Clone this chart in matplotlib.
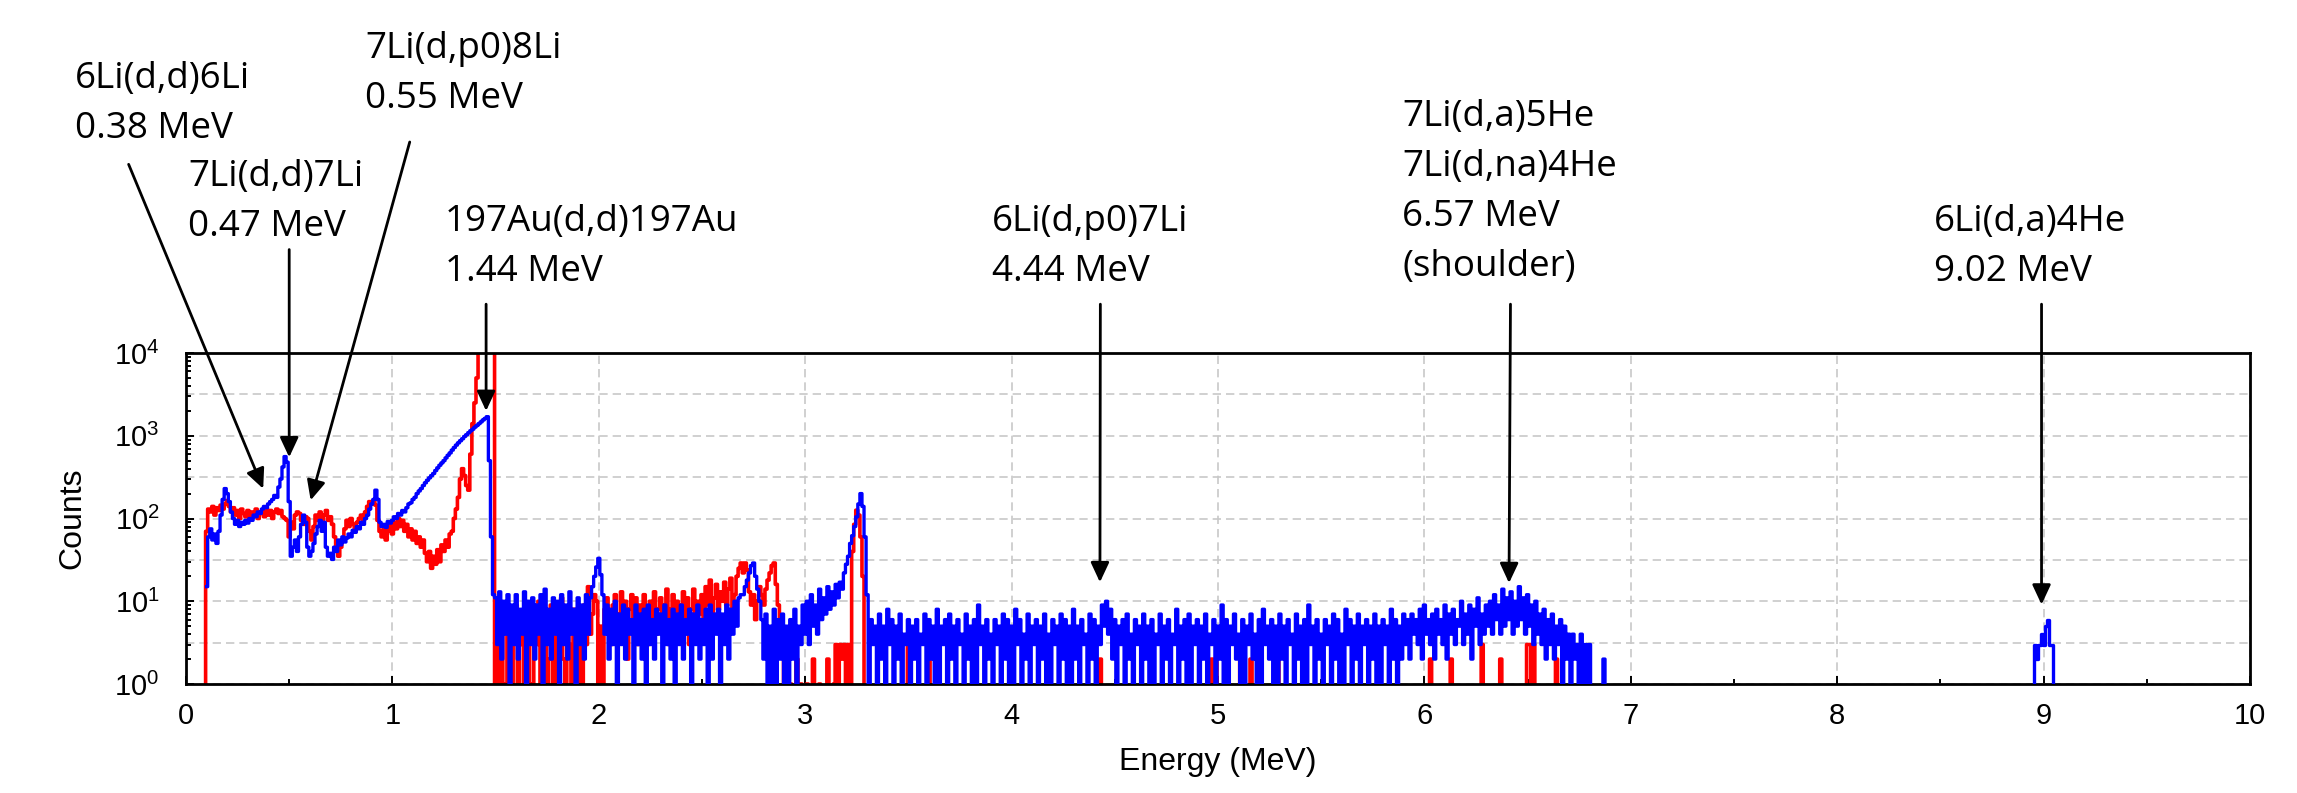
import numpy as np
import matplotlib
matplotlib.use('Agg')
from matplotlib import pyplot as plt
from matplotlib.ticker import LogLocator, MultipleLocator, NullFormatter

# channel width of the spectrum (MeV)
de = 0.01

# red spectrum, 0.08 - 1.49 MeV
red_low = [0, 0,
           70, 130, 120, 140, 110, 135, 125, 145, 130, 150,
           165, 140, 120, 135, 110, 125, 100, 130, 115, 105,
           125, 95, 120, 110, 130, 100, 115, 120, 105, 130,
           110, 125, 100, 120, 130, 115, 125, 105, 100, 95,
           60, 90, 75, 110, 120, 115, 95, 85, 105, 100,
           70, 55, 80, 110, 95, 120, 90, 110, 125, 95,
           105, 85, 60, 40, 35, 45, 55, 75, 95, 80,
           100, 85, 70, 90, 100, 110, 95, 120, 140, 160,
           150, 165, 145, 95, 70, 60, 75, 55, 70, 85,
           65, 90, 75, 100, 80, 95, 70, 85, 60, 75,
           55, 70, 50, 60, 45, 55, 38, 30, 40, 25,
           35, 28, 42, 30, 48, 40, 55, 45, 65, 70,
           100, 130, 180, 300, 400, 330, 250, 220, 600, 1400,
           2500, 5000, 20000, 30000, 30000, 30000, 30000, 30000, 30000, 30000]

# red spectrum, 1.50 - 3.30 MeV
red_mid = [0, 3, 0, 5, 1, 0, 7, 2, 0, 4,
           9, 0, 3, 6, 0, 2, 8, 1, 0, 5,
           3, 10, 0, 4, 7, 0, 2, 9, 1, 6,
           0, 4, 11, 2, 0, 7, 3, 0, 8, 5,
           1, 6, 0, 9, 3, 15, 4, 7, 12, 10,
           0, 5, 0, 8, 11, 6, 3, 9, 12, 4,
           7, 13, 5, 10, 2, 8, 12, 6, 11, 3,
           9, 5, 12, 7, 3, 10, 6, 13, 4, 8,
           11, 5, 9, 14, 3, 8, 12, 6, 10, 4,
           9, 13, 6, 11, 3, 8, 14, 5, 10, 7,
           12, 6, 15, 9, 18, 7, 11, 16, 8, 13,
           10, 17, 9, 14, 19, 8, 12, 20, 25, 29,
           22, 29, 24, 13, 9, 12, 6, 10, 15, 12,
           9, 14, 18, 22, 27, 29, 16, 9, 5, 3,
           0, 2, 0, 1, 0, 0, 2, 0, 1, 0,
           0, 1, 0, 0, 2, 0, 0, 1, 0, 0,
           0, 2, 0, 0, 1, 3, 0, 3, 2, 3,
           0, 3, 0, 40, 85, 126, 110, 60, 20, 0,
           0]

# red above 3.3 MeV: only isolated counts
red_spike_e = [3.50, 3.60, 4.43, 4.97, 4.99, 5.11, 5.16, 5.29,
               6.03, 6.13, 6.28, 6.37, 6.50, 6.51, 6.53, 6.64]
red_spike_c = [3, 3, 2, 2, 2, 2, 2, 3,
               2, 2, 3, 2, 3, 3, 3, 2]

# blue spectrum, 0.10 - 1.49 MeV
blue_low = [15, 60, 75, 55, 65, 50, 70, 110, 170, 230,
            200, 160, 120, 100, 85, 95, 80, 90, 85, 95,
            88, 100, 95, 110, 105, 120, 115, 130, 140, 135,
            150, 160, 170, 190, 180, 240, 300, 420, 560, 480,
            160, 35, 45, 55, 40, 60, 85, 110, 90, 45,
            35, 40, 50, 65, 80, 95, 70, 90, 45, 35,
            38, 32, 45, 40, 55, 48, 60, 52, 58, 65,
            60, 72, 68, 80, 75, 90, 85, 100, 110, 130,
            150, 170, 220, 170, 90, 80, 85, 78, 92, 88,
            95, 105, 100, 115, 110, 125, 120, 135, 150, 155,
            170, 180, 200, 215, 230, 250, 270, 290, 310, 330,
            350, 380, 410, 440, 470, 500, 540, 580, 620, 670,
            720, 770, 820, 870, 920, 980, 1030, 1090, 1150, 1200,
            1270, 1330, 1400, 1470, 1550, 1620, 1700, 500, 60, 12]

# blue spectrum, 1.50 - 3.30 MeV
blue_mid = [11, 3, 13, 2, 10, 4, 12, 1, 9, 3,
            12, 2, 8, 4, 13, 1, 10, 3, 11, 2,
            9, 4, 12, 1, 14, 3, 8, 2, 11, 4,
            10, 1, 12, 3, 9, 2, 13, 4, 8, 1,
            11, 3, 9, 2, 12, 4, 11, 15, 20, 26,
            33, 21, 12, 4, 9, 2, 8, 3, 10, 1,
            7, 3, 9, 2, 8, 4, 6, 1, 9, 3,
            7, 2, 8, 0, 9, 3, 6, 2, 8, 4,
            7, 1, 9, 3, 6, 2, 8, 0, 7, 3,
            9, 2, 6, 4, 8, 1, 7, 3, 9, 2,
            6, 3, 8, 1, 9, 2, 7, 4, 8, 0,
            7, 3, 9, 2, 8, 4, 10, 5, 11, 12,
            12, 15, 18, 22, 27, 29, 20, 14, 10, 6,
            2, 7, 0, 5, 1, 8, 0, 6, 2, 7,
            1, 5, 0, 6, 2, 8, 1, 5, 3, 9,
            4, 10, 3, 12, 5, 9, 4, 14, 6, 11,
            7, 15, 8, 13, 9, 16, 11, 17, 14, 22,
            28, 35, 50, 62, 80, 105, 150, 200, 140, 60,
            12]

# blue spectrum, 3.31 - 6.90 MeV
blue_hi = [1, 6, 3, 5, 0, 7, 2, 5, 1, 8, 3, 6, 0, 5, 2, 7, 1, 4, 3, 6,
           0, 5, 2, 6, 1, 4, 3, 7, 0, 6, 2, 5, 1, 8, 0, 5, 3, 6, 1, 7,
           2, 5, 0, 6, 3, 4, 1, 7, 2, 5, 0, 6, 1, 9, 3, 5, 0, 6, 2, 4,
           1, 6, 3, 5, 0, 7, 2, 6, 1, 5, 0, 8, 3, 6, 1, 4, 2, 7, 0, 5,
           3, 6, 1, 5, 2, 7, 0, 4, 1, 6, 3, 5, 0, 7, 2, 6, 1, 5, 0, 8,
           2, 5, 1, 6, 3, 4, 0, 7, 2, 6, 1, 5, 3, 9, 5, 10, 4, 8, 2, 6,
           0, 5, 3, 6, 1, 7, 2, 4, 0, 6, 3, 5, 1, 7, 2, 5, 0, 6, 1, 4,
           3, 7, 0, 5, 2, 6, 1, 4, 3, 8, 0, 5, 2, 6, 1, 7, 0, 5, 3, 6,
           1, 5, 2, 7, 0, 4, 3, 6, 1, 5, 2, 9, 0, 6, 1, 5, 3, 7, 2, 4,
           0, 6, 1, 5, 3, 7, 2, 4, 0, 6, 1, 8, 3, 5, 2, 6, 0, 5, 1, 7,
           2, 5, 0, 6, 3, 4, 1, 7, 2, 5, 0, 6, 1, 9, 3, 5, 0, 6, 2, 4,
           1, 6, 3, 5, 0, 7, 2, 6, 1, 4, 0, 8, 3, 6, 1, 5, 2, 7, 0, 5,
           3, 6, 1, 5, 2, 7, 0, 5, 1, 6, 3, 5, 0, 8, 2, 6, 1, 5, 2, 7,
           3, 6, 2, 7, 4, 6, 3, 8, 2, 9, 4, 6, 3, 7, 2, 8, 4, 6, 3, 9,
           2, 7, 4, 8, 3, 6, 5, 10, 3, 7, 4, 9, 2, 8, 5, 11, 3, 7, 4, 9,
           5, 10, 4, 12, 6, 9, 4, 14, 5, 11, 6, 13, 4, 10, 5, 15, 6, 11, 4, 12,
           5, 9, 3, 10, 4, 7, 3, 8, 2, 6, 3, 7, 2, 5, 3, 6, 1, 5, 2, 4,
           1, 4, 2, 3, 0, 4, 1, 3, 0, 3, 0, 0, 0, 0, 0, 0, 2, 0, 0, 0]

# blue counts around 9 MeV, 8.95 - 9.05 MeV
blue_9mev = [0, 3, 2, 3, 4, 3, 5, 6, 3, 3, 0]

labels = ['6Li(d,d)6Li\n0.38 MeV',
          '7Li(d,d)7Li\n0.47 MeV',
          '7Li(d,p0)8Li\n0.55 MeV',
          '197Au(d,d)197Au\n1.44 MeV',
          '6Li(d,p0)7Li\n4.44 MeV',
          '7Li(d,a)5He\n7Li(d,na)4He\n6.57 MeV\n(shoulder)',
          '6Li(d,a)4He\n9.02 MeV']

# arrow tips (MeV, counts) and arrow tails (MeV, counts)
tip_e = [0.374, 0.500, 0.604, 1.454, 4.428, 6.410, 8.990]
tip_c = [10**2.36, 10**2.74, 10**2.22, 10**3.30, 10**1.23, 10**1.22, 10**0.96]
tail_e = [-0.278, 0.500, 1.084, 1.454, 4.430, 6.417, 8.990]
tail_c = [10**6.28, 10**5.25, 10**6.55, 10**4.59, 10**4.59, 10**4.59, 10**4.59]

# text position in figure pixels (left, top)
text_px = [(75, 61), (188, 159), (365, 31), (445, 204), (992, 204), (1402, 99), (1934, 204)]

W, H = 2297, 793

# build the full channel arrays
red_hi = np.zeros(360)
for e, c in zip(red_spike_e, red_spike_c):
    red_hi[int(round((e - 3.31) / de))] = c
red = np.concatenate([red_low, red_mid, red_hi])
e_red = 0.08 + de * np.arange(len(red))
blue = np.array(blue_low + blue_mid + blue_hi, dtype=float)
e_blue = 0.10 + de * np.arange(len(blue))
e_9 = 8.95 + de * np.arange(len(blue_9mev))

plt.rcParams['font.family'] = ['Liberation Sans', 'DejaVu Sans']

fig = plt.figure(figsize=(W / 100, H / 100), dpi=100)
ax = fig.add_axes([186 / W, 109 / H, 2064 / W, 331 / H])

ax.plot(e_red, red, '-', color='#ff0000', lw=2.6, drawstyle='steps-mid', zorder=2)
ax.plot(e_blue, blue, '-', color='#0000ff', lw=2.4, drawstyle='steps-mid', zorder=3)
ax.plot(e_9, blue_9mev, '-', color='#0000ff', lw=2.4, drawstyle='steps-mid', zorder=3)

ax.set_yscale('log')
ax.set_xlim(0, 10)
ax.set_ylim(1, 1e4)

ax.xaxis.set_major_locator(MultipleLocator(1))
ax.xaxis.set_minor_locator(MultipleLocator(0.5))
ax.yaxis.set_major_locator(LogLocator(base=10, numticks=10))
ax.yaxis.set_minor_locator(LogLocator(base=10, subs=np.arange(2, 10), numticks=20))
ax.yaxis.set_minor_formatter(NullFormatter())

ax.grid(True, which='major', color='#c8c8c8', ls=(0, (5, 3)), lw=1.2, zorder=0)
for k in range(4):
    ax.axhline(10 ** (k + 0.5), color='#c8c8c8', ls=(0, (5, 3)), lw=1.2, zorder=0)

ax.tick_params(which='both', direction='in', top=False, right=False, width=1.4)
ax.tick_params(which='major', length=6, labelsize=21)
ax.tick_params(which='minor', length=3.5)
ax.tick_params(axis='x', which='major', pad=13)
ax.tick_params(axis='y', which='major', pad=19)
for s in ax.spines.values():
    s.set_linewidth(2)

ax.set_xlabel('Energy (MeV)', fontsize=23, labelpad=12)
ax.set_ylabel('Counts', fontsize=23, labelpad=19)

for i in range(len(labels)):
    ax.annotate('', xy=(tip_e[i], tip_c[i]), xytext=(tail_e[i], tail_c[i]),
                annotation_clip=False, zorder=5,
                arrowprops=dict(arrowstyle='-|>,head_length=0.6,head_width=0.28',
                                mutation_scale=20, color='black', lw=2.0,
                                shrinkA=0, shrinkB=0))
    x, y = text_px[i]
    fig.text(x / W, 1 - y / H, labels[i], ha='left', va='top',
             fontsize=26.5, family=['Open Sans', 'DejaVu Sans'], linespacing=1.52)

plt.savefig('out.png', dpi=100)
